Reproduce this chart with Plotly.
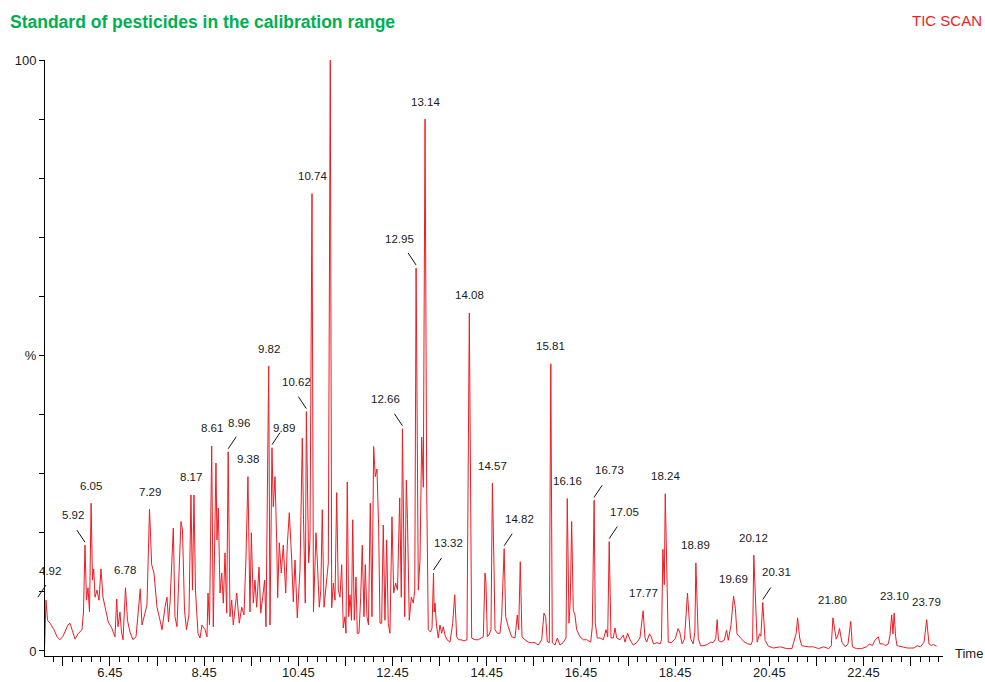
import plotly.graph_objects as go

# Total ion chromatogram (TIC scan): retention time in minutes, relative abundance in %
rt_min = [
    4.92, 5.06, 5.092, 5.124, 5.177, 5.262, 5.326, 5.389, 5.453, 5.517,
    5.559, 5.602, 5.644, 5.708, 5.772, 5.814, 5.856, 5.888, 5.92, 5.952,
    5.984, 6.016, 6.05, 6.079, 6.105, 6.133, 6.175, 6.217, 6.26, 6.302,
    6.366, 6.415, 6.487, 6.557, 6.593, 6.621, 6.663, 6.695, 6.727, 6.78,
    6.822, 6.876, 6.939, 7.003, 7.094, 7.13, 7.194, 7.236, 7.29, 7.336,
    7.385, 7.449, 7.513, 7.555, 7.619, 7.661, 7.693, 7.725, 7.795, 7.831,
    7.873, 7.916, 7.958, 7.99, 8.033, 8.075, 8.128, 8.17, 8.202, 8.234,
    8.266, 8.319, 8.362, 8.404, 8.468, 8.51, 8.532, 8.564, 8.61, 8.644,
    8.701, 8.722, 8.75, 8.787, 8.823, 8.857, 8.893, 8.929, 8.96, 8.999,
    9.035, 9.069, 9.105, 9.141, 9.196, 9.247, 9.296, 9.338, 9.38, 9.423,
    9.451, 9.493, 9.529, 9.565, 9.615, 9.651, 9.693, 9.735, 9.763, 9.82,
    9.848, 9.89, 9.918, 9.954, 9.99, 10.011, 10.045, 10.088, 10.13, 10.182,
    10.215, 10.258, 10.309, 10.343, 10.379, 10.428, 10.485, 10.534, 10.56, 10.597,
    10.62, 10.669, 10.697, 10.74, 10.771, 10.803, 10.825, 10.861, 10.895, 10.927,
    10.958, 10.995, 11.037, 11.086, 11.128, 11.158, 11.192, 11.228, 11.264, 11.298,
    11.334, 11.37, 11.404, 11.44, 11.461, 11.489, 11.519, 11.547, 11.578, 11.604,
    11.638, 11.674, 11.701, 11.737, 11.773, 11.807, 11.843, 11.871, 11.907, 11.939,
    11.977, 12.013, 12.049, 12.083, 12.119, 12.155, 12.183, 12.219, 12.253, 12.289,
    12.325, 12.359, 12.395, 12.438, 12.474, 12.516, 12.555, 12.602, 12.636, 12.66,
    12.708, 12.742, 12.767, 12.805, 12.848, 12.89, 12.922, 12.95, 12.997, 13.033,
    13.069, 13.103, 13.14, 13.175, 13.209, 13.256, 13.288, 13.32, 13.334, 13.351,
    13.383, 13.421, 13.457, 13.493, 13.527, 13.563, 13.606, 13.67, 13.727, 13.77,
    13.812, 13.85, 13.903, 13.967, 14.03, 14.08, 14.13, 14.2, 14.27, 14.328,
    14.377, 14.413, 14.434, 14.462, 14.498, 14.54, 14.57, 14.604, 14.625, 14.674,
    14.731, 14.767, 14.82, 14.852, 14.907, 14.979, 15.05, 15.098, 15.128, 15.162,
    15.198, 15.262, 15.332, 15.404, 15.474, 15.544, 15.616, 15.665, 15.701, 15.735,
    15.778, 15.81, 15.842, 15.899, 15.948, 16.005, 16.069, 16.133, 16.16, 16.196,
    16.224, 16.253, 16.287, 16.323, 16.359, 16.429, 16.5, 16.572, 16.657, 16.691,
    16.73, 16.755, 16.797, 16.854, 16.925, 16.982, 17.018, 17.05, 17.088, 17.137,
    17.173, 17.209, 17.279, 17.349, 17.385, 17.442, 17.491, 17.561, 17.633, 17.703,
    17.77, 17.81, 17.846, 17.904, 17.937, 17.99, 18.065, 18.133, 18.16, 18.19,
    18.22, 18.24, 18.304, 18.372, 18.455, 18.512, 18.548, 18.597, 18.648, 18.712,
    18.748, 18.776, 18.833, 18.869, 18.89, 18.941, 18.99, 19.062, 19.134, 19.206,
    19.255, 19.312, 19.342, 19.37, 19.423, 19.491, 19.542, 19.578, 19.636, 19.69,
    19.729, 19.763, 19.85, 19.922, 19.992, 20.064, 20.095, 20.12, 20.191, 20.242,
    20.27, 20.31, 20.36, 20.43, 20.54, 20.68, 20.82, 20.93, 21.02, 21.05,
    21.094, 21.136, 21.279, 21.387, 21.495, 21.602, 21.71, 21.765, 21.8, 21.87,
    21.907, 21.94, 21.99, 22.062, 22.12, 22.178, 22.213, 22.298, 22.406, 22.513,
    22.584, 22.635, 22.69, 22.763, 22.8, 22.87, 22.906, 22.976, 23.012, 23.048,
    23.075, 23.1, 23.13, 23.16, 23.27, 23.38, 23.52, 23.59, 23.66, 23.735,
    23.79, 23.84, 23.89, 23.93, 24.0,
]

abundance = [
    8.6, 0.0, 8.6, 5.2, 4.7, 3.6, 2.4, 1.9, 2.5, 3.6,
    4.4, 4.7, 3.6, 2.0, 2.9, 3.2, 3.6, 6.6, 17.9, 8.6,
    10.7, 6.6, 25.0, 12.0, 13.9, 9.1, 10.3, 8.6, 13.9, 9.1,
    6.9, 4.9, 3.9, 2.4, 8.8, 4.1, 6.6, 3.2, 1.9, 10.7,
    5.2, 3.2, 1.9, 2.4, 10.5, 4.4, 6.4, 7.8, 24.0, 14.6,
    13.2, 7.4, 5.2, 3.6, 7.4, 9.1, 4.9, 8.1, 20.8, 5.8,
    4.1, 12.0, 21.9, 20.5, 6.9, 3.6, 6.1, 26.4, 10.3, 26.4,
    10.3, 3.0, 2.2, 4.4, 3.6, 2.4, 9.8, 4.4, 34.7, 4.1,
    31.8, 18.8, 24.2, 9.8, 13.2, 8.1, 16.6, 6.4, 33.7, 5.8,
    8.6, 4.4, 7.4, 9.8, 4.7, 7.4, 6.1, 15.9, 29.5, 6.6,
    20.0, 8.1, 12.0, 7.4, 14.2, 6.4, 9.1, 12.0, 4.1, 48.2,
    4.4, 34.4, 24.4, 29.5, 18.8, 9.0, 18.3, 13.2, 17.9, 9.8,
    17.9, 23.4, 15.4, 8.3, 15.4, 5.6, 13.7, 36.0, 22.2, 8.1,
    40.5, 14.9, 18.8, 77.4, 6.6, 13.7, 20.0, 13.7, 7.4, 10.3,
    23.9, 7.4, 11.5, 14.9, 100.0, 7.3, 11.5, 8.6, 26.8, 10.3,
    9.1, 14.6, 3.9, 5.8, 3.0, 28.6, 5.8, 9.5, 5.2, 22.2,
    5.2, 12.5, 3.0, 3.0, 9.0, 17.9, 5.8, 14.6, 5.8, 4.4,
    25.0, 5.8, 34.6, 29.5, 30.8, 21.0, 4.7, 4.7, 21.3, 5.2,
    18.8, 4.7, 3.0, 22.7, 9.8, 11.5, 10.3, 25.9, 9.1, 37.6,
    5.8, 28.9, 22.2, 5.2, 9.1, 8.1, 10.3, 64.8, 10.3, 15.4,
    36.2, 27.7, 90.0, 27.2, 3.6, 3.2, 3.9, 13.2, 6.6, 8.1,
    4.4, 2.2, 4.4, 3.0, 4.1, 2.7, 1.9, 1.5, 4.7, 9.5,
    2.4, 1.9, 1.9, 1.7, 1.9, 57.2, 2.2, 1.9, 1.9, 2.2,
    2.4, 13.2, 11.5, 2.4, 2.7, 3.6, 28.4, 14.2, 3.6, 3.0,
    3.0, 5.8, 17.3, 5.8, 4.1, 2.4, 2.2, 6.1, 3.6, 15.1,
    2.4, 1.9, 1.5, 1.4, 1.4, 1.0, 1.9, 6.4, 5.8, 1.6,
    1.4, 48.6, 1.4, 1.0, 2.2, 1.0, 1.4, 2.2, 25.8, 4.7,
    8.6, 21.9, 6.9, 6.1, 3.6, 2.4, 1.9, 1.9, 1.5, 4.1,
    25.5, 4.7, 2.2, 2.2, 1.9, 3.6, 2.4, 18.5, 2.2, 2.2,
    3.9, 2.2, 1.9, 2.7, 1.5, 3.0, 1.9, 1.0, 1.4, 2.2,
    6.8, 2.2, 1.5, 2.9, 2.5, 1.2, 1.4, 1.2, 1.9, 17.2,
    11.2, 26.6, 1.5, 1.4, 2.1, 3.8, 3.2, 1.2, 2.0, 9.8,
    4.4, 2.1, 1.2, 3.2, 14.9, 2.1, 0.9, 0.9, 1.1, 1.5,
    1.4, 2.1, 5.3, 1.8, 1.5, 1.8, 3.5, 1.8, 4.4, 9.3,
    7.2, 2.9, 2.1, 1.5, 1.2, 1.1, 1.8, 16.2, 1.5, 2.9,
    2.5, 8.2, 1.8, 0.8, 0.5, 0.7, 0.4, 0.4, 3.0, 5.6,
    2.2, 0.9, 0.7, 0.7, 0.4, 0.7, 0.4, 0.9, 5.6, 2.0,
    2.7, 3.8, 1.5, 0.7, 1.2, 5.0, 0.7, 0.4, 0.4, 0.7,
    1.2, 0.9, 1.8, 2.4, 1.2, 1.2, 0.9, 1.2, 2.7, 6.1,
    2.9, 6.4, 2.5, 0.9, 0.7, 0.5, 0.5, 0.9, 0.7, 1.5,
    5.3, 1.2, 0.9, 1.1, 0.8,
]

# Retention-time labels printed above the peaks
peak_labels = [
    "4.92", "5.92", "6.05", "6.78", "7.29", "8.17", "8.61", "8.96", "9.38",
    "9.82", "9.89", "10.62", "10.74", "12.66", "12.95", "13.14", "13.32",
    "14.08", "14.57", "14.82", "15.81", "16.16", "16.73", "17.05", "17.77",
    "18.24", "18.89", "19.69", "20.12", "20.31", "21.80", "23.10", "23.79",
]

# Axis tick labels
x_tick_values = [5.45 + i for i in range(19)]
x_tick_text = [f"{v:.2f}" if round(v - 0.45) % 2 == 0 else "" for v in x_tick_values]
y_tick_values = list(range(0, 101, 10))
y_tick_text = ["0", "", "", "", "", "%", "", "", "", "", "100"]

assert len(rt_min) == len(abundance)

# ---- layout constants -------------------------------------------------------
W, H = 985, 682
MARGIN = dict(l=45, r=42, t=60, b=26)
X_RANGE = [5.071, 24.137]
Y_RANGE = [-0.85, 100]
PLOT_W = W - MARGIN["l"] - MARGIN["r"]
PLOT_H = H - MARGIN["t"] - MARGIN["b"]

TRACE_RED = "#ED1C24"
TEXT = "#1a1a1a"
FONT = "Liberation Sans, Arial, Helvetica, sans-serif"

# Labels drawn beside their peak with a short leader line:
# (leader direction, text offset x in px, text offset y in px)
leader_style = {
    "4.92": (1, 12, 29),
    "5.92": (-1, -12, 30),
    "8.96": (1, 11, 29),
    "9.89": (1, 11.6, 20),
    "10.62": (-1, -10, 30),
    "12.66": (-1, -16.7, 30),
    "12.95": (-1, -16.2, 28.7),
    "13.32": (1, 15.2, 30.3),
    "14.82": (1, 15.1, 29.7),
    "16.73": (1, 15.1, 30),
    "17.05": (1, 15.2, 29.7),
    "20.31": (1, 13.3, 30.3),
}
LABEL_RISE = 17.5  # px between apex and label centre for plain labels

fig = go.Figure(
    go.Scatter(
        x=rt_min,
        y=abundance,
        mode="lines",
        line=dict(color=TRACE_RED, width=1),
        hoverinfo="skip",
        showlegend=False,
    )
)


def apex_height(t):
    for rt, ab in zip(rt_min, abundance):
        if abs(rt - t) < 1e-9:
            return ab
    raise ValueError(t)


for lab in peak_labels:
    t = float(lab)
    h = apex_height(t)
    inside = t >= X_RANGE[0]
    if inside:
        ref = dict(xref="x", yref="y")
        ax_x, ax_y = t, h
    else:
        # peak sits just left of the visible window: anchor in paper units
        ref = dict(xref="paper", yref="paper")
        ax_x = (t - X_RANGE[0]) / (X_RANGE[1] - X_RANGE[0])
        ax_y = (h - Y_RANGE[0]) / (Y_RANGE[1] - Y_RANGE[0])

    if lab in leader_style:
        direction, dx, dy = leader_style[lab]
        fig.add_shape(
            type="line",
            xsizemode="pixel", ysizemode="pixel",
            xanchor=ax_x, yanchor=ax_y,
            x0=0, y0=3, x1=8 * direction, y1=15,
            line=dict(color="#111111", width=1),
            layer="above",
            **ref,
        )
    else:
        dx, dy = 0, LABEL_RISE

    fig.add_annotation(
        x=ax_x, y=ax_y, text=lab, showarrow=False,
        xshift=dx, yshift=dy, xanchor="center", yanchor="middle",
        font=dict(size=11.5, color=TEXT, family=FONT),
        **ref,
    )

# header texts
fig.add_annotation(
    xref="paper", yref="paper",
    x=(984 - MARGIN["l"]) / PLOT_W, y=(PLOT_H + MARGIN["t"] - 20) / PLOT_H,
    text="TIC SCAN", showarrow=False, xanchor="right", yanchor="middle",
    font=dict(size=15, color=TRACE_RED, family=FONT),
)
fig.add_annotation(
    xref="paper", yref="paper",
    x=(953 - MARGIN["l"]) / PLOT_W, y=3 / PLOT_H,
    text="Time", showarrow=False, xanchor="left", yanchor="middle",
    font=dict(size=13, color=TEXT, family=FONT),
)

fig.update_layout(
    width=W, height=H,
    margin=dict(MARGIN, autoexpand=False),
    paper_bgcolor="white",
    plot_bgcolor="white",
    showlegend=False,
    title=dict(
        text="<b>Standard of pesticides in the calibration range</b>",
        x=10 / W, xref="container", xanchor="left",
        y=1 - 21.7 / H, yref="container", yanchor="middle",
        font=dict(size=17.5, color="#00B050", family=FONT),
        automargin=False,
    ),
    xaxis=dict(
        range=X_RANGE, automargin=False,
        showgrid=False, zeroline=False,
        showline=True, linecolor="black", linewidth=1,
        ticks="outside", ticklen=9, tickwidth=1, tickcolor="black",
        ticklabelstandoff=-5,
        tickmode="array", tickvals=x_tick_values, ticktext=x_tick_text,
        tickfont=dict(size=13, color=TEXT, family=FONT),
        minor=dict(tickmode="linear", tick0=0.45, dtick=0.2, ticks="outside",
                   ticklen=5, tickcolor="black", showgrid=False),
    ),
    yaxis=dict(
        range=Y_RANGE, automargin=False,
        showgrid=False, zeroline=False,
        showline=True, linecolor="black", linewidth=1,
        ticks="outside", ticklen=5, tickwidth=1, tickcolor="black",
        tickmode="array", tickvals=y_tick_values, ticktext=y_tick_text,
        tickfont=dict(size=13, color=TEXT, family=FONT),
    ),
)

fig.write_html("out.html")
